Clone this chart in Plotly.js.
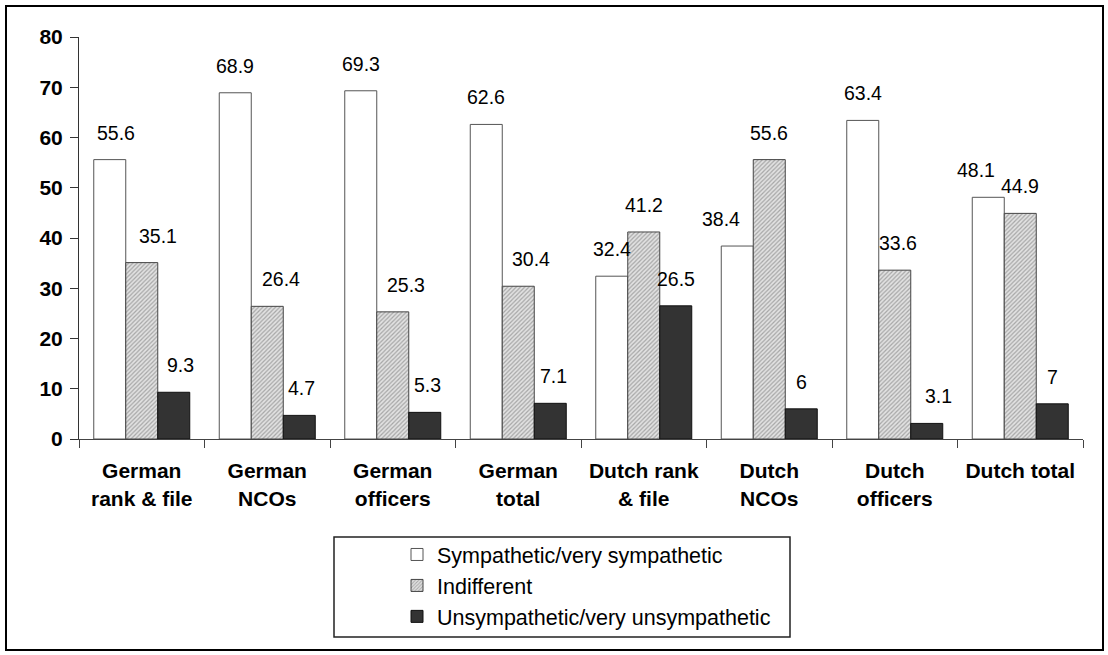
<!DOCTYPE html>
<html>
<head>
<meta charset="utf-8">
<script src="https://cdn.plot.ly/plotly-3.0.1.min.js"></script>
<style>
  html, body { margin: 0; padding: 0; background: #fff; }
  #chart { width: 1108px; height: 655px; }
</style>
</head>
<body>
<div id="chart"></div>
<script>
// ---- data ----
var categories = [
  "German<br>rank & file", "German<br>NCOs", "German<br>officers", "German<br>total",
  "Dutch rank<br>& file", "Dutch<br>NCOs", "Dutch<br>officers", "Dutch total"
];
var seriesNames = [
  "Sympathetic/very sympathetic",
  "Indifferent",
  "Unsympathetic/very unsympathetic"
];
var sympathetic   = [55.6, 68.9, 69.3, 62.6, 32.4, 38.4, 63.4, 48.1];
var indifferent   = [35.1, 26.4, 25.3, 30.4, 41.2, 55.6, 33.6, 44.9];
var unsympathetic = [9.3, 4.7, 5.3, 7.1, 26.5, 6, 3.1, 7];
var yTicks = [0, 10, 20, 30, 40, 50, 60, 70, 80];

// ---- layout constants (styling only) ----
var W = 1108, H = 655;
var M = { l: 79, r: 25, t: 37, b: 216 };
var plotW = W - M.l - M.r, plotH = H - M.t - M.b;
var bargap = 0.235;
var barPx = plotW / categories.length * (1 - bargap) / 3;
var FONT = "Arial, 'Liberation Sans', Helvetica, sans-serif";
// small horizontal nudges (px) of the value labels, as placed in the original
var labelNudge = [
  [6, 0, 0, 0, 0, -16, 0, -12],
  [16, 14, 13, 13, 0, 0, 3, 0],
  [7, 2, 3, 3, 0, 0, 12, 0]
];

function px2x(p) { return (p - M.l) / plotW; }
function px2y(p) { return (H - M.b - p) / plotH; }

var allSeries = [sympathetic, indifferent, unsympathetic];
var styles = [
  { color: "#ffffff", line: { color: "#555555", width: 1 } },
  { color: "#d4d4d4", line: { color: "#444444", width: 1 },
    pattern: { shape: "/", bgcolor: "#e2e2e2", fgcolor: "#a6a6a6", size: 3, solidity: 0.4, fillmode: "replace" } },
  { color: "#333333", line: { color: "#111111", width: 1 } }
];

var traces = allSeries.map(function (vals, i) {
  return {
    type: "bar",
    name: seriesNames[i],
    x: categories,
    y: vals,
    marker: styles[i],
    hoverinfo: "x+y+name"
  };
});

var annotations = [];
allSeries.forEach(function (vals, i) {
  vals.forEach(function (v, j) {
    annotations.push({
      x: categories[j], y: v, xref: "x", yref: "y",
      text: String(v), showarrow: false,
      xanchor: "center", yanchor: "middle",
      xshift: (i - 1) * barPx + labelNudge[i][j], yshift: 27,
      font: { family: FONT, size: 19.5, color: "#000" }
    });
  });
});

var layout = {
  width: W, height: H,
  margin: M,
  paper_bgcolor: "#fff", plot_bgcolor: "#fff",
  barmode: "group", bargap: bargap, bargroupgap: 0,
  showlegend: true,
  legend: {
    x: px2x(397), y: px2y(534), xanchor: "left", yanchor: "top",
    xref: "paper", yref: "paper",
    bgcolor: "rgba(0,0,0,0)", borderwidth: 0,
    font: { family: FONT, size: 21.5, color: "#000" },
    traceorder: "normal"
  },
  xaxis: {
    type: "category",
    tickson: "boundaries",
    ticks: "outside", ticklen: 8, tickcolor: "#444", tickwidth: 1,
    showline: true, linecolor: "#444", linewidth: 1,
    showgrid: false, zeroline: false,
    ticklabelstandoff: 13,
    tickfont: { family: FONT, size: 21, color: "#000", weight: "bold" },
    automargin: false, fixedrange: true
  },
  yaxis: {
    range: [0, 80],
    tickmode: "array", tickvals: yTicks, ticktext: yTicks.map(String),
    ticks: "outside", ticklen: 8, tickcolor: "#333", tickwidth: 1,
    showline: true, linecolor: "#333", linewidth: 1,
    showgrid: false, zeroline: false,
    ticklabelstandoff: 3,
    tickfont: { family: FONT, size: 21, color: "#000", weight: "bold" },
    automargin: false, fixedrange: true
  },
  annotations: annotations,
  shapes: [
    { type: "rect", xref: "paper", yref: "paper", layer: "above",
      x0: px2x(6), x1: px2x(1103), y0: px2y(650), y1: px2y(6),
      line: { color: "#000", width: 2 }, fillcolor: "rgba(0,0,0,0)" },
    { type: "rect", xref: "paper", yref: "paper", layer: "below",
      x0: px2x(334), x1: px2x(790), y0: px2y(637), y1: px2y(537),
      line: { color: "#222", width: 1.5 }, fillcolor: "rgba(0,0,0,0)" }
  ]
};

Plotly.newPlot("chart", traces, layout, { displayModeBar: false, staticPlot: true });
</script>
</body>
</html>
